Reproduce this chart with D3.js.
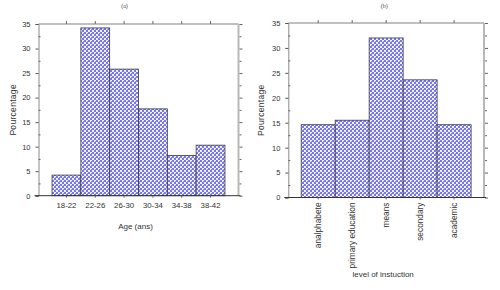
<!DOCTYPE html>
<html><head><meta charset="utf-8">
<script src="https://cdn.jsdelivr.net/npm/d3@7/dist/d3.min.js"></script>
<style>body{margin:0;background:#fff}svg{display:block}</style>
</head><body>
<svg id="c" width="500" height="290"></svg>
<script>
const ageCats = ["18-22","22-26","26-30","30-34","34-38","38-42"];
const ageVals = [4.2, 34.2, 25.8, 17.7, 8.2, 10.3];
const eduCats = ["analphabete","primary education","means","secondary","academic"];
const eduVals = [14.6, 15.5, 32.0, 23.6, 14.6];
const yTicks = [0,5,10,15,20,25,30,35];
const minorTicks = [2.5,7.5,12.5,17.5,22.5,27.5,32.5];

const svg = d3.select("#c");
const defs = svg.append("defs");
const pat = defs.append("pattern").attr("id","chk").attr("patternUnits","userSpaceOnUse")
  .attr("width",4).attr("height",4);
pat.append("rect").attr("width",4).attr("height",4).attr("fill","#f2f2ff");
pat.append("rect").attr("x",0).attr("y",0).attr("width",2).attr("height",2).attr("fill","#7676f3");
pat.append("rect").attr("x",2).attr("y",2).attr("width",2).attr("height",2).attr("fill","#7676f3");
pat.append("rect").attr("x",3).attr("y",1).attr("width",1).attr("height",1).attr("fill","#9a9af7");

const FONT = "'Liberation Sans', Arial, sans-serif";

function panel(cfg){
  const {x0,x1,y0,y1,cats,vals,pad,title,xlabel,rotate,xlabY} = cfg;
  const g = svg.append("g");
  const x = d3.scaleBand().domain(cats).range([x0,x1]).paddingInner(0).paddingOuter(pad);
  const y = d3.scaleLinear().domain([0,35]).range([y1,y0]);

  g.selectAll("rect.bar").data(vals).enter().append("rect")
    .attr("x",(d,i)=>x(cats[i])).attr("width",x.bandwidth())
    .attr("y",d=>y(d)).attr("height",d=>y(0)-y(d))
    .attr("fill","url(#chk)").attr("stroke","#3a3a3a").attr("stroke-width",0.8);

  g.append("line").attr("x1",x0).attr("x2",x1).attr("y1",y0).attr("y2",y0).attr("stroke","#808080").attr("stroke-width",1);
  g.append("line").attr("x1",x1).attr("x2",x1).attr("y1",y0).attr("y2",y1).attr("stroke","#b8b8b8").attr("stroke-width",2);

  const la = g.append("g").attr("transform",`translate(${x0},0)`)
    .call(d3.axisLeft(y).tickValues(yTicks).tickSize(3).tickPadding(5).tickFormat(d3.format("d")));
  la.select(".domain").attr("stroke","#8a8a8a");
  la.selectAll(".tick line").attr("stroke","#555");
  la.selectAll("text").attr("font-family",FONT).attr("font-size",7.5).attr("fill","#333");
  const lm = g.append("g").attr("transform",`translate(${x0},0)`)
    .call(d3.axisRight(y).tickValues(minorTicks).tickSize(2).tickFormat(""));
  lm.select(".domain").remove(); lm.selectAll(".tick line").attr("stroke","#666");

  const ra = g.append("g").attr("transform",`translate(${x1+1},0)`)
    .call(d3.axisRight(y).tickValues(yTicks).tickSize(3).tickFormat(""));
  ra.select(".domain").remove(); ra.selectAll(".tick line").attr("stroke","#666");
  const rm = g.append("g").attr("transform",`translate(${x1+1},0)`)
    .call(d3.axisRight(y).tickValues(minorTicks).tickSize(2).tickFormat(""));
  rm.select(".domain").remove(); rm.selectAll(".tick line").attr("stroke","#666");

  const ta = g.append("g").attr("transform",`translate(0,${y0})`)
    .call(d3.axisTop(x).tickSize(3).tickFormat(""));
  ta.select(".domain").remove(); ta.selectAll(".tick line").attr("stroke","#666");

  const ba = g.append("g").attr("transform",`translate(0,${y1})`)
    .call(d3.axisBottom(x).tickSize(2).tickPadding(5));
  ba.select(".domain").attr("stroke","#333").attr("d",`M${x0-4},0H${x1+2}`);
  ba.selectAll(".tick line").attr("stroke","#666");
  ba.selectAll("text").attr("font-family",FONT).attr("font-size",rotate?8.3:7.8).attr("fill","#333");
  if(rotate){
    ba.selectAll("text").attr("transform","rotate(-90)").attr("text-anchor","end")
      .attr("x",-5).attr("y",0).attr("dy","0.35em");
  }

  svg.append("text").attr("x",(x0+x1)/2 - 14 + (cfg.tdx||0)).attr("y",8).attr("text-anchor","middle")
    .attr("font-family","'Liberation Serif', serif").attr("font-size",6).attr("fill","#444").text(title);
  svg.append("text").attr("transform",`translate(${x0-cfg.ylx},${(y0+y1)/2}) rotate(-90)`)
    .attr("text-anchor","middle").attr("font-family",FONT).attr("font-size",8.5)
    .attr("letter-spacing",0.3).attr("fill","#333").text("Pourcentage");
  svg.append("text").attr("x",(x0+x1)/2 - 3).attr("y",xlabY).attr("text-anchor","middle")
    .attr("font-family",FONT).attr("font-size",8).attr("fill","#333").text(xlabel);
}

panel({x0:38.5,x1:238.5,y0:24,y1:195.7,cats:ageCats,vals:ageVals,pad:0.47,title:"(a)",xlabel:"Age (ans)",rotate:false,xlabY:229,ylx:23});
panel({x0:288.3,x1:484,y0:23,y1:197.5,cats:eduCats,vals:eduVals,pad:0.38,title:"(b)",xlabel:"level of instuction",rotate:true,xlabY:277,tdx:12,ylx:24});
</script>
</body></html>
